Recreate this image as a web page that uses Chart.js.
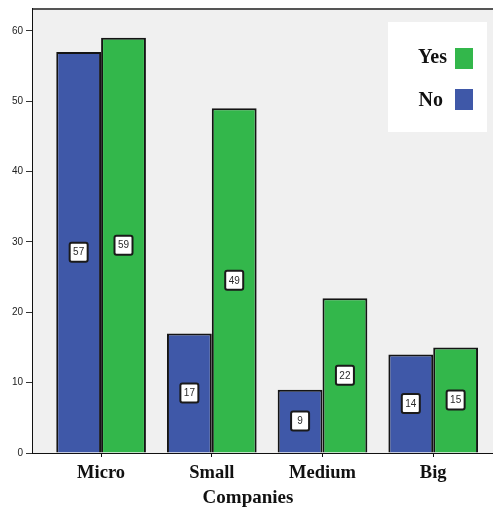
<!DOCTYPE html>
<html>
<head>
<meta charset="utf-8">
<script src="https://cdn.jsdelivr.net/npm/chart.js@4"></script>
<style>
  html, body { margin: 0; padding: 0; background: #ffffff; }
  canvas { display: block; }
</style>
</head>
<body>
<canvas id="chart" width="493" height="509"></canvas>
<script>
const categories = ['Micro', 'Small', 'Medium', 'Big'];
const noValues = [57, 17, 9, 14];
const yesValues = [59, 49, 22, 15];
const yTicks = [0, 10, 20, 30, 40, 50, 60];
const seriesNames = ['No', 'Yes'];
const axisTitle = 'Companies';

const blue = '#3f58a8';
const green = '#33b74b';
const serif = "'Liberation Serif', 'Times New Roman', serif";

// grey plot background and the thin frame line along the top
const plotFrame = {
    id: 'plotFrame',
    beforeDatasetsDraw(chart) {
        const { ctx, chartArea: a } = chart;
        ctx.save();
        ctx.fillStyle = '#f0f0f0';
        ctx.fillRect(a.left, a.top, a.right - a.left, a.bottom - a.top);
        ctx.strokeStyle = '#555555';
        ctx.lineWidth = 2;
        ctx.beginPath();
        ctx.moveTo(a.left, a.top);
        ctx.lineTo(a.right, a.top);
        ctx.stroke();
        ctx.restore();
    }
};

// small white boxes with the count in the middle of each bar
const barLabels = {
    id: 'barLabels',
    afterDatasetsDraw(chart) {
        const { ctx } = chart;
        ctx.save();
        ctx.font = '10px "Liberation Sans", Arial, sans-serif';
        ctx.textAlign = 'center';
        ctx.textBaseline = 'middle';
        chart.data.datasets.forEach((ds, di) => {
            chart.getDatasetMeta(di).data.forEach((bar, i) => {
                const { x, y, base } = bar.getProps(['x', 'y', 'base'], true);
                const cy = (y + base) / 2;
                const w = 18, h = 19;
                ctx.fillStyle = '#ffffff';
                ctx.strokeStyle = '#1a1a1a';
                ctx.lineWidth = 2;
                ctx.beginPath();
                ctx.roundRect(x - w / 2, cy - h / 2, w, h, 2);
                ctx.fill();
                ctx.stroke();
                ctx.fillStyle = '#2a2a2a';
                ctx.fillText(String(ds.data[i].y), x, cy + 0.5);
            });
        });
        ctx.restore();
    }
};

// legend box in the upper right, text on the left of the swatch
const boxLegend = {
    id: 'boxLegend',
    afterDraw(chart) {
        const { ctx } = chart;
        ctx.save();
        ctx.fillStyle = '#ffffff';
        ctx.fillRect(388, 22, 99, 110);
        ctx.font = 'bold 20px ' + serif;
        ctx.textAlign = 'right';
        ctx.textBaseline = 'middle';
        const order = [1, 0];
        order.forEach((di, row) => {
            const ds = chart.data.datasets[di];
            const cy = 58 + row * 41;
            ctx.fillStyle = '#111111';
            ctx.fillText(ds.label, row === 0 ? 447 : 443, cy + row * 2);
            ctx.fillStyle = ds.backgroundColor;
            ctx.fillRect(455, cy - 10, 18, 21);
        });
        ctx.restore();
    }
};

// x axis title, sits a bit left of the plot centre
const xTitle = {
    id: 'xTitle',
    afterDraw(chart) {
        const { ctx } = chart;
        ctx.save();
        ctx.font = 'bold 19px ' + serif;
        ctx.fillStyle = '#111111';
        ctx.textAlign = 'center';
        ctx.textBaseline = 'middle';
        ctx.fillText(axisTitle, 248, 498);
        ctx.restore();
    }
};

new Chart(document.getElementById('chart'), {
    type: 'bar',
    data: {
        datasets: [
            {
                label: seriesNames[0],
                data: noValues.map((v, i) => ({ x: i, y: v })),
                backgroundColor: blue,
                borderColor: '#141414',
                borderWidth: 2
            },
            {
                label: seriesNames[1],
                data: yesValues.map((v, i) => ({ x: i, y: v })),
                backgroundColor: green,
                borderColor: '#141414',
                borderWidth: 2
            }
        ]
    },
    options: {
        responsive: false,
        animation: false,
        devicePixelRatio: 1,
        categoryPercentage: 0.81,
        barPercentage: 1,
        layout: { padding: { top: 7, right: 0, bottom: 0, left: 0 } },
        plugins: {
            legend: { display: false },
            tooltip: { enabled: false }
        },
        scales: {
            x: {
                type: 'linear',
                offset: false,
                min: -0.615,
                max: 3.54,
                afterBuildTicks: scale => {
                    scale.ticks = categories.map((c, i) => ({ value: i }));
                },
                afterFit: scale => { scale.height = 56; },
                ticks: {
                    callback: v => categories[v],
                    font: { family: serif, size: 18.5, weight: 'bold' },
                    color: '#111111',
                    padding: 5,
                    maxRotation: 0
                },
                grid: { offset: false, drawOnChartArea: false, tickLength: 4, color: '#111111', lineWidth: 1 },
                border: { display: true, color: '#111111', width: 2 }
            },
            y: {
                min: 0,
                max: 63.1,
                afterBuildTicks: scale => {
                    scale.ticks = yTicks.map(v => ({ value: v }));
                },
                afterFit: scale => { scale.width = 33; },
                ticks: {
                    font: { family: "'Liberation Sans', Arial, sans-serif", size: 10 },
                    color: '#222222',
                    padding: 3
                },
                grid: { drawOnChartArea: false, tickLength: 7, color: '#333333', lineWidth: 1 },
                border: { display: true, color: '#111111', width: 2 }
            }
        }
    },
    plugins: [plotFrame, barLabels, boxLegend, xTitle]
});
</script>
</body>
</html>
